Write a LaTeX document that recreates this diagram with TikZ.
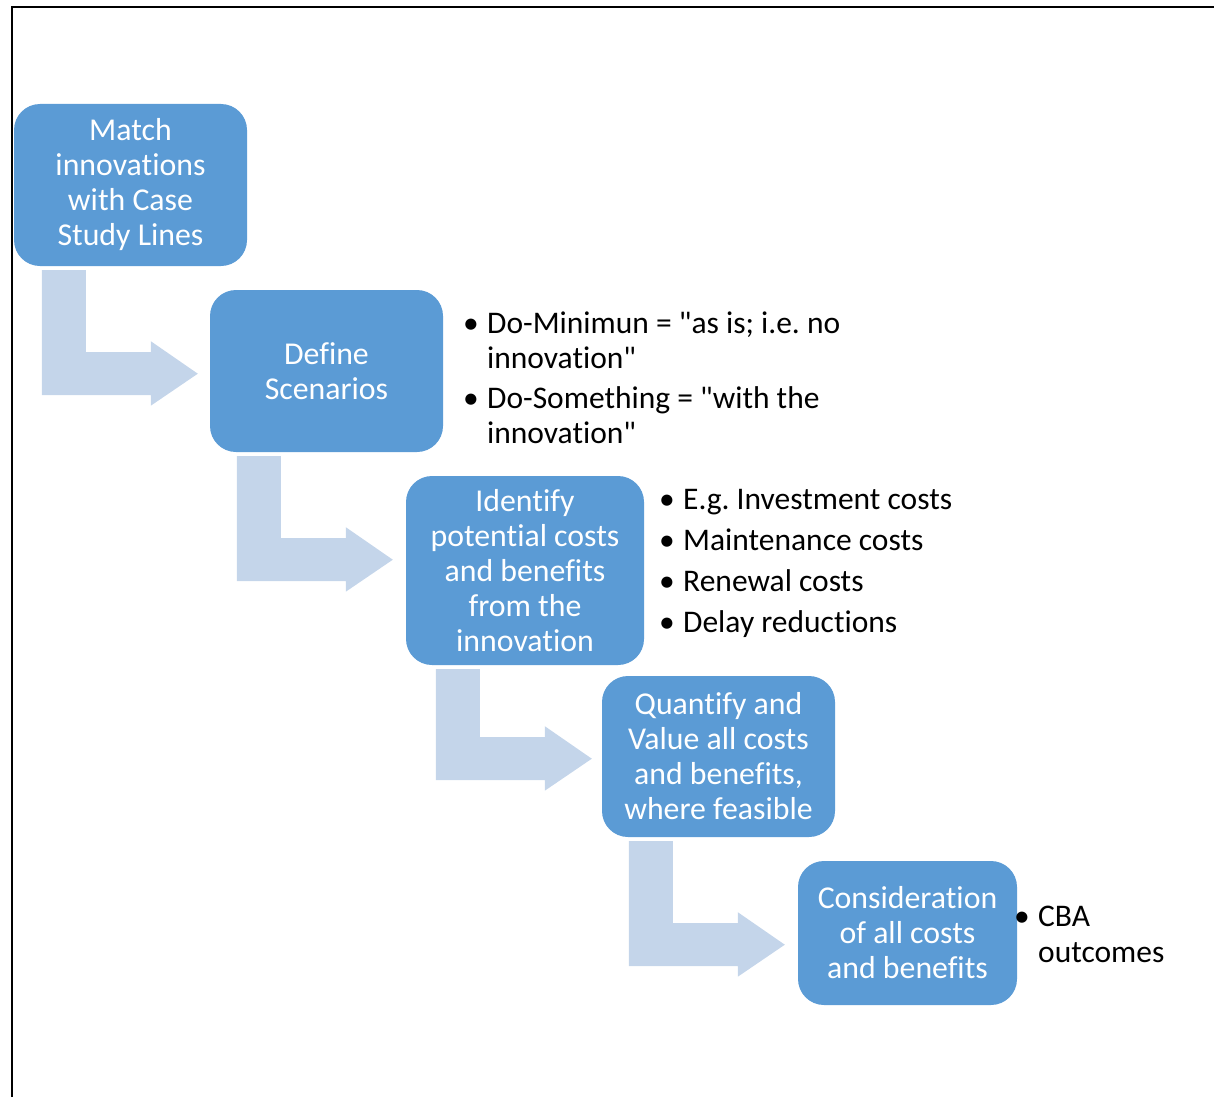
\documentclass[tikz,border=0pt]{standalone}
\usepackage{fontspec}
\setmainfont{Carlito}[Ligatures={NoCommon}]
\newfontfamily\calibri{Carlito}[Ligatures={NoCommon}]
\usetikzlibrary{calc}
\frenchspacing

\definecolor{stepblue}{HTML}{5B9BD5}
\definecolor{flowblue}{HTML}{C4D5EA}

\tikzset{
  stepbox/.style={fill=stepblue, text=white, rounded corners=26pt, align=center,
    inner sep=0pt, font=\calibri\fontsize{31.8}{35}\selectfont},
  notes/.style={anchor=base west, inner sep=0pt, font=\calibri\fontsize{31.5}{35}\selectfont},
  flow/.style={fill=flowblue}
}
\newcommand{\bendarrow}[2]{%
  \fill[flow, shift={#1}] (0,0) -- (44,0) -- (44,#2-43) -- (109,#2-43) -- (109,#2-54)
    -- (156,#2-21.5) -- (109,#2+10.5) -- (109,#2) -- (0,#2) -- cycle;}
\newcommand{\bul}{\makebox[24pt][l]{\textbullet}}

\begin{document}
\begin{tikzpicture}[x=1pt,y=-1pt]
      \useasboundingbox (0,0) rectangle (1214,1097);
      \draw[line width=2pt] (12,1097) -- (12,7.5) -- (1214,7.5);
      \node[stepbox, minimum width=233, minimum height=162] (match) at (130.5,185)
        {Match\\innovations\\with Case\\Study Lines};
      \node[stepbox, minimum width=233, minimum height=162] (define) at (326.5,371)
        {Define\\Scenarios};
      \node[stepbox, minimum width=238, minimum height=189] (identify) at (525,570.5)
        {Identify\\potential costs\\and benefits\\from the\\innovation};
      \node[stepbox, minimum width=233, minimum height=161] (quantify) at (718.5,756.5)
        {Quantify and\\Value all costs\\and benefits,\\where feasible};
      \node[stepbox, minimum width=219, minimum height=144] (consider) at (907.5,933)
        {Consideration\\of all costs\\and benefits};
      \bendarrow{($(match.south west)+(28,4)$)}{125}
      \bendarrow{($(define.south west)+(27,4)$)}{125}
      \bendarrow{($(identify.south west)+(30,4)$)}{111}
      \bendarrow{($(quantify.south west)+(27,4)$)}{125}
      \node[notes] (scenarios) at (463,333) {\begin{tabular}[t]{@{}l@{}l@{}}
        \bul & Do-Minimun = "as is; i.e. no\\
             & innovation"\\[5pt]
        \bul & Do-Something = "with the\\
             & innovation"
      \end{tabular}};
      \node[notes] (costs) at (659,509) {\begin{tabular}[t]{@{}l@{}l@{}}
        \bul & E.g. Investment costs\\[6pt]
        \bul & Maintenance costs\\[6pt]
        \bul & Renewal costs\\[6pt]
        \bul & Delay reductions
      \end{tabular}};
      \node[notes] (outcomes) at (1014,926) {\begin{tabular}[t]{@{}l@{}l@{}}
        \bul & CBA\\[1pt]
             & outcomes
      \end{tabular}};
\end{tikzpicture}
\end{document}
